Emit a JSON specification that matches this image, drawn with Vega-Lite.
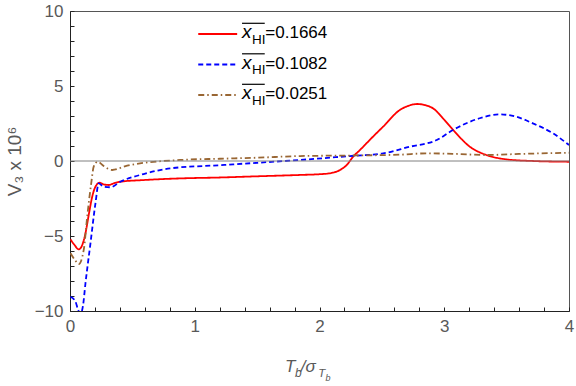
{
  "$schema": "https://vega.github.io/schema/vega-lite/v6.json",
  "width": 499,
  "height": 300,
  "autosize": "none",
  "padding": {"left": 70, "top": 11, "right": 7, "bottom": 75},
  "background": "white",
  "config": {
    "view": {"stroke": "#555555", "strokeWidth": 1},
    "font": "Liberation Sans",
    "axis": {"grid": false, "domain": true, "ticks": true, "domainColor": "#222222", "tickColor": "#222222", "labelFont": "Liberation Sans", "titleFont": "Liberation Sans", "tickSize": -4, "labelPadding": 11, "labelFlush": false, "labelOverlap": false, "labelFontSize": 17, "labelColor": "#595959"},
    "axisX": {"tickCount": 20, "labelExpr": "round(datum.value*5)%5==0 ? format(datum.value, 'd') : ''"},
    "axisY": {"tickCount": 20, "labelExpr": "round(datum.value)%5==0 ? format(datum.value, 'd') : ''", "titleFontSize": 19, "titleFontWeight": "normal", "titleColor": "#595959", "titlePadding": 10}
  },
  "datasets": {
    "curves": [
      {"s": "0.1664", "x": 0.004, "y": -5.22}, {"s": "0.1664", "x": 0.036, "y": -5.6}, {"s": "0.1664", "x": 0.07, "y": -5.89},
      {"s": "0.1664", "x": 0.098, "y": -5.6}, {"s": "0.1664", "x": 0.124, "y": -4.82}, {"s": "0.1664", "x": 0.15, "y": -3.6},
      {"s": "0.1664", "x": 0.178, "y": -2.38}, {"s": "0.1664", "x": 0.204, "y": -1.71}, {"s": "0.1664", "x": 0.238, "y": -1.45},
      {"s": "0.1664", "x": 0.27, "y": -1.56}, {"s": "0.1664", "x": 0.31, "y": -1.6}, {"s": "0.1664", "x": 0.35, "y": -1.49},
      {"s": "0.1664", "x": 0.404, "y": -1.38}, {"s": "0.1664", "x": 0.59, "y": -1.27}, {"s": "0.1664", "x": 0.884, "y": -1.16},
      {"s": "0.1664", "x": 1.2, "y": -1.1}, {"s": "0.1664", "x": 1.5, "y": -1.02}, {"s": "0.1664", "x": 1.844, "y": -0.93},
      {"s": "0.1664", "x": 2.0, "y": -0.88}, {"s": "0.1664", "x": 2.084, "y": -0.82}, {"s": "0.1664", "x": 2.164, "y": -0.6},
      {"s": "0.1664", "x": 2.218, "y": -0.27}, {"s": "0.1664", "x": 2.27, "y": 0.29}, {"s": "0.1664", "x": 2.324, "y": 0.73},
      {"s": "0.1664", "x": 2.42, "y": 1.55}, {"s": "0.1664", "x": 2.51, "y": 2.29}, {"s": "0.1664", "x": 2.644, "y": 3.4},
      {"s": "0.1664", "x": 2.72, "y": 3.7}, {"s": "0.1664", "x": 2.782, "y": 3.8}, {"s": "0.1664", "x": 2.85, "y": 3.72},
      {"s": "0.1664", "x": 2.91, "y": 3.51}, {"s": "0.1664", "x": 3.0, "y": 2.75}, {"s": "0.1664", "x": 3.084, "y": 1.95},
      {"s": "0.1664", "x": 3.204, "y": 0.96}, {"s": "0.1664", "x": 3.338, "y": 0.4}, {"s": "0.1664", "x": 3.498, "y": 0.11},
      {"s": "0.1664", "x": 3.71, "y": 0.0}, {"s": "0.1664", "x": 4.0, "y": -0.05},

      {"s": "0.1082", "x": 0.004, "y": -9.05}, {"s": "0.1082", "x": 0.044, "y": -9.38}, {"s": "0.1082", "x": 0.064, "y": -9.9},
      {"s": "0.1082", "x": 0.084, "y": -10.2}, {"s": "0.1082", "x": 0.105, "y": -9.6}, {"s": "0.1082", "x": 0.124, "y": -8.15},
      {"s": "0.1082", "x": 0.164, "y": -5.49}, {"s": "0.1082", "x": 0.204, "y": -2.82}, {"s": "0.1082", "x": 0.23, "y": -1.49},
      {"s": "0.1082", "x": 0.27, "y": -1.71}, {"s": "0.1082", "x": 0.324, "y": -1.75}, {"s": "0.1082", "x": 0.404, "y": -1.38},
      {"s": "0.1082", "x": 0.59, "y": -0.87}, {"s": "0.1082", "x": 0.804, "y": -0.49}, {"s": "0.1082", "x": 1.2, "y": -0.28},
      {"s": "0.1082", "x": 1.5, "y": -0.12}, {"s": "0.1082", "x": 1.844, "y": 0.07}, {"s": "0.1082", "x": 2.244, "y": 0.33},
      {"s": "0.1082", "x": 2.51, "y": 0.51}, {"s": "0.1082", "x": 2.724, "y": 0.95}, {"s": "0.1082", "x": 2.94, "y": 1.4},
      {"s": "0.1082", "x": 3.07, "y": 2.07}, {"s": "0.1082", "x": 3.284, "y": 2.85}, {"s": "0.1082", "x": 3.444, "y": 3.11},
      {"s": "0.1082", "x": 3.578, "y": 2.95}, {"s": "0.1082", "x": 3.71, "y": 2.51}, {"s": "0.1082", "x": 3.87, "y": 1.85},
      {"s": "0.1082", "x": 4.0, "y": 1.07},

      {"s": "0.0251", "x": 0.004, "y": -6.15}, {"s": "0.0251", "x": 0.04, "y": -6.6}, {"s": "0.0251", "x": 0.07, "y": -6.87},
      {"s": "0.0251", "x": 0.11, "y": -5.93}, {"s": "0.0251", "x": 0.138, "y": -3.71}, {"s": "0.0251", "x": 0.17, "y": -1.49},
      {"s": "0.0251", "x": 0.19, "y": -0.38}, {"s": "0.0251", "x": 0.222, "y": -0.05}, {"s": "0.0251", "x": 0.27, "y": -0.33},
      {"s": "0.0251", "x": 0.338, "y": -0.6}, {"s": "0.0251", "x": 0.458, "y": -0.31}, {"s": "0.0251", "x": 0.884, "y": 0.07},
      {"s": "0.0251", "x": 1.2, "y": 0.15}, {"s": "0.0251", "x": 1.5, "y": 0.22}, {"s": "0.0251", "x": 1.844, "y": 0.33},
      {"s": "0.0251", "x": 2.3, "y": 0.37}, {"s": "0.0251", "x": 2.644, "y": 0.42}, {"s": "0.0251", "x": 2.86, "y": 0.51},
      {"s": "0.0251", "x": 3.1, "y": 0.47}, {"s": "0.0251", "x": 3.34, "y": 0.4}, {"s": "0.0251", "x": 3.6, "y": 0.47},
      {"s": "0.0251", "x": 4.0, "y": 0.55}
    ],
    "one": [{"k": 1}]
  },
  "layer": [
    {
      "data": {"name": "curves"},
      "mark": {"type": "line", "clip": true, "strokeWidth": 1.8, "interpolate": "monotone"},
      "encoding": {
        "x": {
          "field": "x", "type": "quantitative",
          "scale": {"domain": [0, 4], "nice": false, "zero": false},
          "axis": {"title": null}
        },
        "y": {
          "field": "y", "type": "quantitative",
          "scale": {"domain": [-10, 10], "nice": false, "zero": false},
          "axis": {"title": "V₃ x 10⁶"}
        },
        "color": {
          "field": "s", "type": "nominal", "legend": null,
          "scale": {"domain": ["0.1664", "0.1082", "0.0251"], "range": ["#ff0000", "#0000ff", "#996633"]}
        },
        "strokeDash": {
          "field": "s", "type": "nominal", "legend": null,
          "scale": {"domain": ["0.1664", "0.1082", "0.0251"], "range": [[1, 0], [5, 3], [6, 3, 1.5, 3]]}
        }
      }
    },
    {
      "data": {"name": "one"},
      "mark": {"type": "rule", "color": "#808080", "strokeWidth": 1},
      "encoding": {"y": {"datum": 0}}
    },
    {
      "data": {"name": "one"},
      "mark": {"type": "text", "text": "T", "fontSize": 17, "fontStyle": "italic", "align": "left", "baseline": "alphabetic", "color": "#595959"},
      "encoding": {"x": {"datum": 1.723}, "y": {"datum": -14.09}}
    },
    {
      "data": {"name": "one"},
      "mark": {"type": "text", "text": "b", "fontSize": 12, "fontStyle": "italic", "align": "left", "baseline": "alphabetic", "color": "#595959"},
      "encoding": {"x": {"datum": 1.804}, "y": {"datum": -14.38}}
    },
    {
      "data": {"name": "one"},
      "mark": {"type": "text", "text": "/σ", "fontSize": 17, "fontStyle": "italic", "align": "left", "baseline": "alphabetic", "color": "#595959"},
      "encoding": {"x": {"datum": 1.849}, "y": {"datum": -14.09}}
    },
    {
      "data": {"name": "one"},
      "mark": {"type": "text", "text": "T", "fontSize": 11.5, "fontStyle": "italic", "align": "left", "baseline": "alphabetic", "color": "#595959"},
      "encoding": {"x": {"datum": 1.99}, "y": {"datum": -14.4}}
    },
    {
      "data": {"name": "one"},
      "mark": {"type": "text", "text": "b", "fontSize": 9, "fontStyle": "italic", "align": "left", "baseline": "alphabetic", "color": "#595959"},
      "encoding": {"x": {"datum": 2.048}, "y": {"datum": -14.66}}
    },

    {
      "data": {"name": "one"},
      "mark": {"type": "rule", "strokeWidth": 1.8},
      "encoding": {"x": {"datum": 1.028}, "x2": {"datum": 1.34}, "y": {"datum": 8.467}, "color": {"datum": "0.1664"}, "strokeDash": {"datum": "0.1664"}}
    },
    {
      "data": {"name": "one"},
      "mark": {"type": "rule", "strokeWidth": 1.8},
      "encoding": {"x": {"datum": 1.028}, "x2": {"datum": 1.34}, "y": {"datum": 6.433}, "color": {"datum": "0.1082"}, "strokeDash": {"datum": "0.1082"}}
    },
    {
      "data": {"name": "one"},
      "mark": {"type": "rule", "strokeWidth": 1.8},
      "encoding": {"x": {"datum": 1.028}, "x2": {"datum": 1.34}, "y": {"datum": 4.4}, "color": {"datum": "0.0251"}, "strokeDash": {"datum": "0.0251"}}
    },

    {
      "data": {"name": "one"},
      "mark": {"type": "text", "text": "x", "fontSize": 19, "fontStyle": "italic", "align": "left", "baseline": "alphabetic", "dy": 4, "color": "black"},
      "encoding": {"x": {"datum": 1.379}, "y": {"datum": 8.467}}
    },
    {
      "data": {"name": "one"},
      "mark": {"type": "text", "text": "x", "fontSize": 19, "fontStyle": "italic", "align": "left", "baseline": "alphabetic", "dy": 4, "color": "black"},
      "encoding": {"x": {"datum": 1.379}, "y": {"datum": 6.433}}
    },
    {
      "data": {"name": "one"},
      "mark": {"type": "text", "text": "x", "fontSize": 19, "fontStyle": "italic", "align": "left", "baseline": "alphabetic", "dy": 4, "color": "black"},
      "encoding": {"x": {"datum": 1.379}, "y": {"datum": 4.4}}
    },

    {
      "data": {"name": "one"},
      "mark": {"type": "text", "text": "HI", "fontSize": 13.5, "align": "left", "baseline": "alphabetic", "dy": 9.7, "color": "black"},
      "encoding": {"x": {"datum": 1.459}, "y": {"datum": 8.467}}
    },
    {
      "data": {"name": "one"},
      "mark": {"type": "text", "text": "HI", "fontSize": 13.5, "align": "left", "baseline": "alphabetic", "dy": 9.7, "color": "black"},
      "encoding": {"x": {"datum": 1.459}, "y": {"datum": 6.433}}
    },
    {
      "data": {"name": "one"},
      "mark": {"type": "text", "text": "HI", "fontSize": 13.5, "align": "left", "baseline": "alphabetic", "dy": 9.7, "color": "black"},
      "encoding": {"x": {"datum": 1.459}, "y": {"datum": 4.4}}
    },

    {
      "data": {"name": "one"},
      "mark": {"type": "rule", "yOffset": -10.7, "strokeWidth": 1.2, "color": "black"},
      "encoding": {"x": {"datum": 1.379}, "x2": {"datum": 1.561}, "y": {"datum": 8.467}}
    },
    {
      "data": {"name": "one"},
      "mark": {"type": "rule", "yOffset": -10.7, "strokeWidth": 1.2, "color": "black"},
      "encoding": {"x": {"datum": 1.379}, "x2": {"datum": 1.561}, "y": {"datum": 6.433}}
    },
    {
      "data": {"name": "one"},
      "mark": {"type": "rule", "yOffset": -10.7, "strokeWidth": 1.2, "color": "black"},
      "encoding": {"x": {"datum": 1.379}, "x2": {"datum": 1.561}, "y": {"datum": 4.4}}
    },

    {
      "data": {"name": "one"},
      "mark": {"type": "text", "text": "=0.1664", "fontSize": 17, "align": "left", "baseline": "alphabetic", "dy": 4, "color": "black"},
      "encoding": {"x": {"datum": 1.566}, "y": {"datum": 8.467}}
    },
    {
      "data": {"name": "one"},
      "mark": {"type": "text", "text": "=0.1082", "fontSize": 17, "align": "left", "baseline": "alphabetic", "dy": 4, "color": "black"},
      "encoding": {"x": {"datum": 1.566}, "y": {"datum": 6.433}}
    },
    {
      "data": {"name": "one"},
      "mark": {"type": "text", "text": "=0.0251", "fontSize": 17, "align": "left", "baseline": "alphabetic", "dy": 4, "color": "black"},
      "encoding": {"x": {"datum": 1.566}, "y": {"datum": 4.4}}
    }
  ]
}
